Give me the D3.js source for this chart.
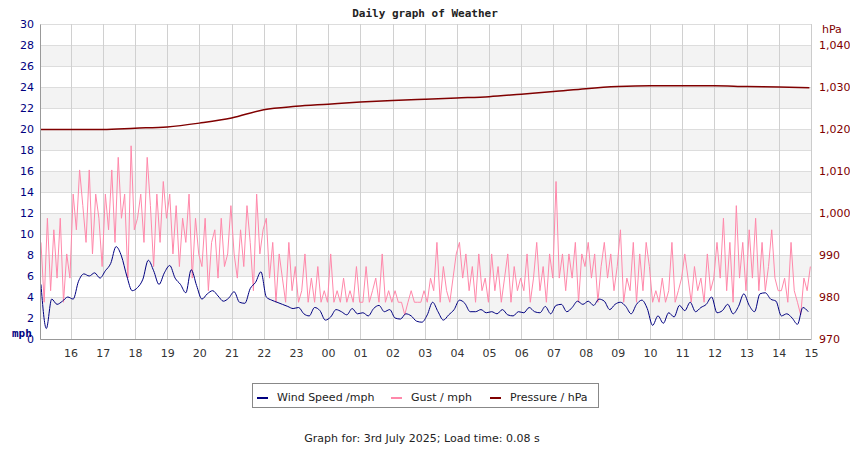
<html>
  <head>
    <meta http-equiv="content-type" content="text/html;charset=UTF-8">
    <title>Weather</title>
    <script src="https://d3js.org/d3.v7.min.js"></script>
    <style>
      body { margin:0px; background:#fff; font-family:"DejaVu Sans"; }
      .tick text { font-family:"DejaVu Sans"; font-size:11px; }
    </style>
  </head>
  <body>
    <script>
      // hours since midnight of day 1 (15..39)
      var pressureHours = d3.range(15, 40);
      var pressure = [1019.9,1019.9,1019.9,1020.2,1020.5,1021.4,1022.6,1024.6,1025.4,1025.9,1026.4,1026.8,
        1027.1,1027.4,1027.7,1028.3,1028.9,1029.6,1030.1,1030.3,1030.3,1030.3,1030.1,1030.0,1029.8];

      // wind speed, 6 per hour starting 15:05
      var wind = [
        5.2,1.0,3.8,3.3,3.6,4.0, 3.8,5.5,6.2,6.0,6.3,5.8, 6.5,7.2,8.8,7.9,6.0,4.6, 4.9,5.7,7.5,6.5,5.2,6.3,
        7.0,5.8,5.2,4.4,6.6,5.1, 3.8,4.3,4.6,4.1,3.6,3.9, 4.5,3.5,3.4,4.8,5.4,6.4, 4.0,3.7,3.5,3.3,3.1,2.9,
        3.0,2.4,2.2,3.0,2.7,1.8, 2.1,2.8,2.6,2.3,2.9,2.4, 2.5,2.2,2.9,3.2,2.6,2.8, 2.0,1.9,2.4,2.2,1.7,1.6,
        2.3,3.5,2.6,1.8,2.3,2.8, 3.7,3.4,2.6,2.6,2.8,2.5, 2.6,2.4,2.8,2.3,2.2,2.6, 2.5,3.0,2.6,2.5,3.1,2.4,
        3.2,3.3,2.6,3.0,3.6,3.3, 3.6,3.2,3.8,3.6,2.8,3.3, 3.5,3.1,2.4,3.3,3.7,2.9, 1.3,2.2,1.5,2.5,2.1,3.2,
        2.7,3.5,2.6,3.0,3.3,4.0, 2.5,2.7,3.3,2.4,3.1,4.3, 3.2,2.6,4.3,4.4,3.8,3.6, 2.2,2.4,2.0,1.4,3.0,2.6];

      // gust, 10 per hour starting 15:05
      var gust = [
        9.2,3.5,11.5,4.6,10.4,5.8,11.5,3.5,8.1,5.8,
        13.8,10.4,16.1,12.7,9.2,16.1,8.1,13.8,11.5,6.9,
        13.8,10.4,16.1,9.2,17.3,11.5,13.8,5.8,18.4,10.4,
        11.5,13.8,9.2,17.3,12.7,6.9,13.8,9.2,15.0,11.5,
        13.8,8.1,12.7,6.9,11.5,9.2,13.8,5.8,11.5,8.1,
        6.9,11.5,4.6,9.2,10.4,5.8,11.5,6.9,8.1,12.7,
        8.1,5.8,10.4,6.9,12.7,9.2,4.6,13.8,8.1,10.4,
        11.5,5.8,9.2,3.5,8.1,5.8,3.5,9.2,4.6,6.9,
        3.5,4.6,8.1,3.5,5.8,3.5,6.9,3.5,4.6,3.5,
        8.1,3.5,4.6,3.5,5.8,3.5,4.6,3.5,6.9,3.5,
        3.5,6.9,3.5,4.6,5.8,3.5,8.1,3.5,4.6,3.5,
        4.6,3.5,3.5,2.3,3.5,4.6,3.5,3.5,3.5,4.6,
        3.5,5.8,4.6,9.2,3.5,6.9,4.6,3.5,5.8,8.1,
        9.2,5.8,8.1,4.6,6.9,3.5,8.1,4.6,5.8,3.5,
        8.1,4.6,6.9,3.5,5.8,8.1,3.5,6.9,4.6,5.8,
        4.6,8.1,3.5,5.8,9.2,4.6,6.9,3.5,8.1,5.8,
        15.0,5.8,8.1,4.6,8.1,5.8,9.2,3.5,8.1,6.9,
        9.2,5.8,8.1,3.5,6.9,9.2,5.8,8.1,4.6,6.9,
        10.4,3.5,5.8,4.6,9.2,3.5,8.1,4.6,9.2,6.9,
        3.5,4.6,3.5,5.8,3.5,4.6,9.2,3.5,4.6,5.8,
        8.1,5.8,3.5,6.9,4.6,5.8,3.5,8.1,4.6,5.8,
        9.2,5.8,11.5,4.6,9.2,3.5,12.7,5.8,9.2,4.6,
        10.4,5.8,11.5,4.6,9.2,4.6,6.9,10.4,5.8,4.6,
        4.6,5.8,3.5,9.2,4.6,3.5,2.3,5.8,4.6,6.9];

      var hourTicks = d3.range(16, 40);
      var mphTicks = d3.range(0, 31, 2);
      var hpaTicks = d3.range(970, 1041, 10);
      var legendItems = [["Wind Speed /mph","#000080"],["Gust / mph","#ff88aa"],["Pressure / hPa","#800000"]];

      var pLeft = 40, pRight = 811, pTop = 24, pBottom = 339;
      var svg = d3.select("body").append("svg").attr("width",850).attr("height",450);

      var x = d3.scaleLinear().domain([15.05, 39.0]).range([pLeft, pRight]);
      var y = d3.scaleLinear().domain([0, 30]).range([pBottom, pTop]);
      var yp = d3.scaleLinear().domain([970, 1045]).range([pBottom, pTop]);

      // shaded bands
      svg.selectAll("rect.band").data(d3.range(2, 28, 4)).enter().append("rect")
        .attr("x", pLeft).attr("width", pRight-pLeft)
        .attr("y", function(d){ return y(d+2); })
        .attr("height", function(d){ return y(d)-y(d+2); })
        .attr("fill", "#f3f3f3");
      svg.selectAll("line.hg").data(mphTicks).enter().append("line")
        .attr("x1", pLeft).attr("x2", pRight)
        .attr("y1", function(d){ return Math.round(y(d))+0.5; }).attr("y2", function(d){ return Math.round(y(d))+0.5; })
        .attr("stroke", "#ddd");
      svg.selectAll("line.vg").data(hourTicks).enter().append("line")
        .attr("x1", function(d){ return Math.round(x(d))+0.5; }).attr("x2", function(d){ return Math.round(x(d))+0.5; })
        .attr("y1", pTop).attr("y2", pBottom)
        .attr("stroke", "#d0d0d0");

      // series
      var tw = function(i){ return 15.08 + i/6; };
      var tg = function(i){ return 15.08 + i/10; };
      svg.append("path").datum(gust).attr("fill","none").attr("stroke","#ff88aa").attr("stroke-width",1)
        .attr("d", d3.line().x(function(d,i){ return x(tg(i)); }).y(function(d){ return y(d); }));
      svg.append("path").datum(wind).attr("fill","none").attr("stroke","#000080").attr("stroke-width",1)
        .attr("d", d3.line().curve(d3.curveMonotoneX).x(function(d,i){ return x(tw(i)); }).y(function(d){ return y(d); }));
      svg.append("path").datum(pressure).attr("fill","none").attr("stroke","#800000").attr("stroke-width",1.5)
        .attr("d", d3.line().curve(d3.curveMonotoneX).x(function(d,i){ return x(Math.max(15.08, Math.min(38.95, pressureHours[i]))); }).y(function(d){ return yp(d); }));

      // axes
      var ax = svg.append("g").attr("transform","translate(0,"+pBottom+")")
        .call(d3.axisBottom(x).tickValues(hourTicks).tickSize(0).tickPadding(10)
          .tickFormat(function(d){ return d3.format("02d")(d % 24); }));
      ax.select(".domain").attr("stroke","#999");
      ax.selectAll("text").attr("fill","#333");

      var al = svg.append("g").attr("transform","translate("+pLeft+",0)")
        .call(d3.axisLeft(y).tickValues(mphTicks).tickSize(0).tickPadding(6));
      al.select(".domain").attr("stroke","#999");
      al.selectAll("text").attr("fill","#000080");

      var ar = svg.append("g").attr("transform","translate("+pRight+",0)")
        .call(d3.axisRight(yp).tickValues(hpaTicks).tickSize(0).tickPadding(8));
      ar.select(".domain").attr("stroke","#ccc");
      ar.selectAll("text").attr("fill","#800000");

      svg.append("text").attr("x",12).attr("y",337).attr("fill","#000080")
        .attr("font-family","DejaVu Sans Mono").attr("font-weight","bold").attr("font-size",11).text("mph");
      svg.append("text").attr("x",822).attr("y",33).attr("fill","#800000")
        .attr("font-family","DejaVu Sans").attr("font-size",11).text("hPa");

      svg.append("text").attr("x",425).attr("y",17).attr("text-anchor","middle")
        .attr("font-family","DejaVu Sans Mono").attr("font-weight","bold").attr("font-size",11)
        .attr("fill","#222").text("Daily graph of Weather");

      // legend
      svg.append("rect").attr("x",252.5).attr("y",383.5).attr("width",346).attr("height",24)
        .attr("fill","#fff").attr("stroke","#888");
      var lx = [257, 391, 490];
      var lg = svg.selectAll("g.leg").data(legendItems).enter().append("g")
        .attr("transform", function(d,i){ return "translate("+lx[i]+",397)"; });
      lg.append("rect").attr("x",0).attr("y",0).attr("width",11).attr("height",2)
        .attr("fill", function(d){ return d[1]; });
      lg.append("text").attr("x",20).attr("y",4).attr("font-size",11).attr("fill","#222")
        .text(function(d){ return d[0]; });

      svg.append("text").attr("x",422).attr("y",442).attr("text-anchor","middle")
        .attr("font-size",11).attr("fill","#222")
        .text("Graph for: 3rd July 2025; Load time: 0.08 s");
    </script>
  </body>
</html>
